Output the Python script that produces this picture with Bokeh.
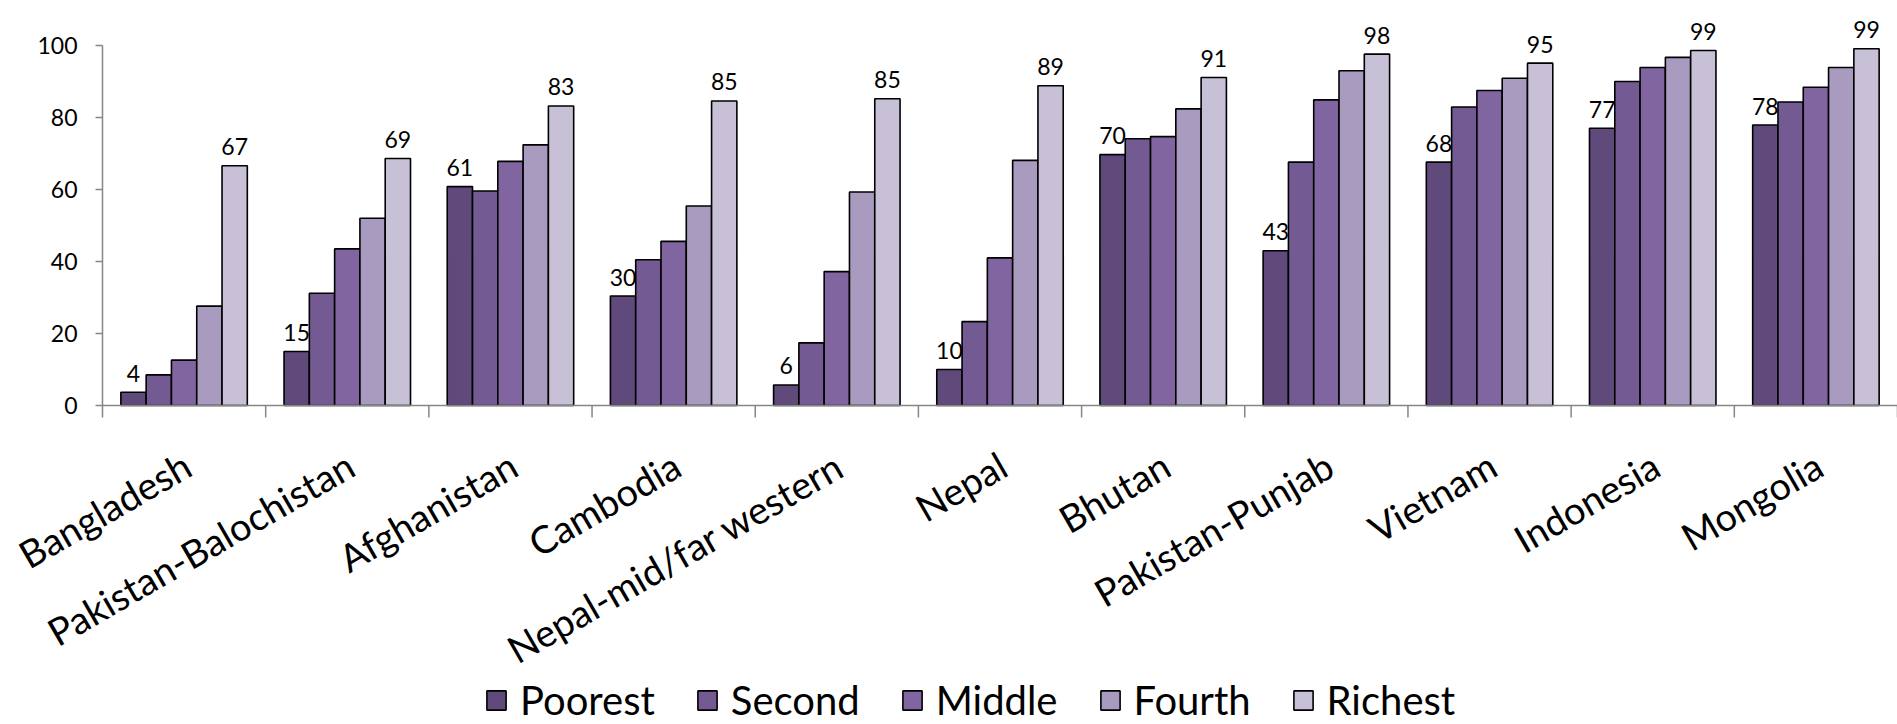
import math
from bokeh.plotting import figure
from bokeh.models import (Range1d, ColumnDataSource, Legend, LegendItem)
from bokeh.transform import dodge
from bokeh.core.properties import value
from bokeh.embed import file_html
from bokeh.resources import INLINE

countries = ["Bangladesh", "Pakistan-Balochistan", "Afghanistan", "Cambodia",
             "Nepal-mid/far western", "Nepal", "Bhutan", "Pakistan-Punjab",
             "Vietnam", "Indonesia", "Mongolia"]
poorest = [3.7, 15.0, 60.8, 30.4, 5.7, 10.0, 69.7, 43.0, 67.6, 77.0, 77.9]
second = [8.5, 31.2, 59.6, 40.5, 17.4, 23.3, 74.1, 67.6, 82.9, 90.0, 84.3]
middle = [12.6, 43.5, 67.8, 45.6, 37.2, 41.0, 74.7, 84.9, 87.5, 93.9, 88.4]
fourth = [27.6, 52.0, 72.4, 55.4, 59.3, 68.1, 82.4, 93.0, 90.9, 96.7, 93.9]
richest = [66.6, 68.6, 83.2, 84.6, 85.2, 88.8, 91.1, 97.6, 95.1, 98.6, 99.1]
quintiles = ["Poorest", "Second", "Middle", "Fourth", "Richest"]
colors = ["#604a7b", "#735a93", "#8165a1", "#a99bbf", "#c8c0d6"]
y_ticks = [0, 20, 40, 60, 80, 100]

n = len(countries)
centers = [i + 0.5 for i in range(n)]
series = [poorest, second, middle, fourth, richest]
src = ColumnDataSource(dict(
    country=countries,
    pos=centers,
    **{q: s for q, s in zip(quintiles, series)},
    poorest_label=[f"{v:.0f}" for v in poorest],
    richest_label=[f"{v:.0f}" for v in richest],
))
bounds_src = ColumnDataSource(dict(b=list(range(n + 1))))
yticks_src = ColumnDataSource(dict(y=y_ticks, label=[str(t) for t in y_ticks]))

AXIS_GRAY = "#868686"
FONT = "Lato"

W, H = 1897, 724
FRAME_TOP, ZERO_Y, AXIS_X = 10, 405, 102
PX_PER_UNIT = 3.6
PX_PER_CAT = (W - AXIS_X) / n

p = figure(x_range=Range1d(-AXIS_X / PX_PER_CAT, n),
           y_range=Range1d(-(H - ZERO_Y) / PX_PER_UNIT, (ZERO_Y - FRAME_TOP) / PX_PER_UNIT),
           width=W, height=H, output_backend="svg", toolbar_location=None,
           x_axis_location=None, y_axis_location=None,
           min_border_left=0, min_border_right=0, min_border_top=FRAME_TOP, min_border_bottom=0)
p.outline_line_color = None
p.grid.visible = False

bar_w = 0.155
offsets = [-2 * bar_w, -bar_w, 0.0, bar_w, 2 * bar_w]
renderers = []
for q, c, off in zip(quintiles, colors, offsets):
    r = p.vbar(x=dodge("pos", off), top=q, width=bar_w, source=src,
               fill_color=c, line_color="black", line_width=1.6)
    renderers.append(r)

label_kw = dict(source=src, y_offset=-19, text_align="center", text_baseline="alphabetic",
                text_font=value(FONT), text_font_size="23px", text_color="black")
p.text(x=dodge("pos", offsets[0]), y="Poorest", text="poorest_label", **label_kw)
p.text(x=dodge("pos", offsets[-1]), y="Richest", text="richest_label", **label_kw)

axis_kw = dict(line_color=AXIS_GRAY, line_width=1.5)

# value axis: line, outward ticks and labels
p.segment(x0=0, y0=y_ticks[0], x1=0, y1=y_ticks[-1], **axis_kw)
p.segment(x0=0, y0="y", x1=-7 / PX_PER_CAT, y1="y", source=yticks_src, **axis_kw)
p.text(x=0, y="y", text="label", source=yticks_src, x_offset=-25,
       text_align="right", text_baseline="middle", text_font=value(FONT),
       text_font_size="23px", text_color="black")

# category axis: baseline, boundary ticks and rotated names
p.segment(x0=0, y0=0, x1=n, y1=0, **axis_kw)
p.segment(x0="b", y0=0, x1="b", y1=-12 / PX_PER_UNIT, source=bounds_src, **axis_kw)
p.text(x="pos", y=0, text="country", source=src, angle=math.pi / 6, y_offset=56, x_offset=3,
       text_align="right", text_baseline="middle", text_font=value(FONT),
       text_font_size="38px", text_color="black")

legend = Legend(items=[LegendItem(label=q, renderers=[r]) for q, r in zip(quintiles, renderers)],
                orientation="horizontal", location=(484, 0),
                label_text_font=FONT, label_text_font_size="40px", label_text_color="black",
                glyph_width=24, glyph_height=24, label_standoff=12, spacing=40,
                padding=0, margin=0, border_line_color=None, background_fill_alpha=0)
p.add_layout(legend)

open("out.html", "w").write(file_html(p, INLINE))
